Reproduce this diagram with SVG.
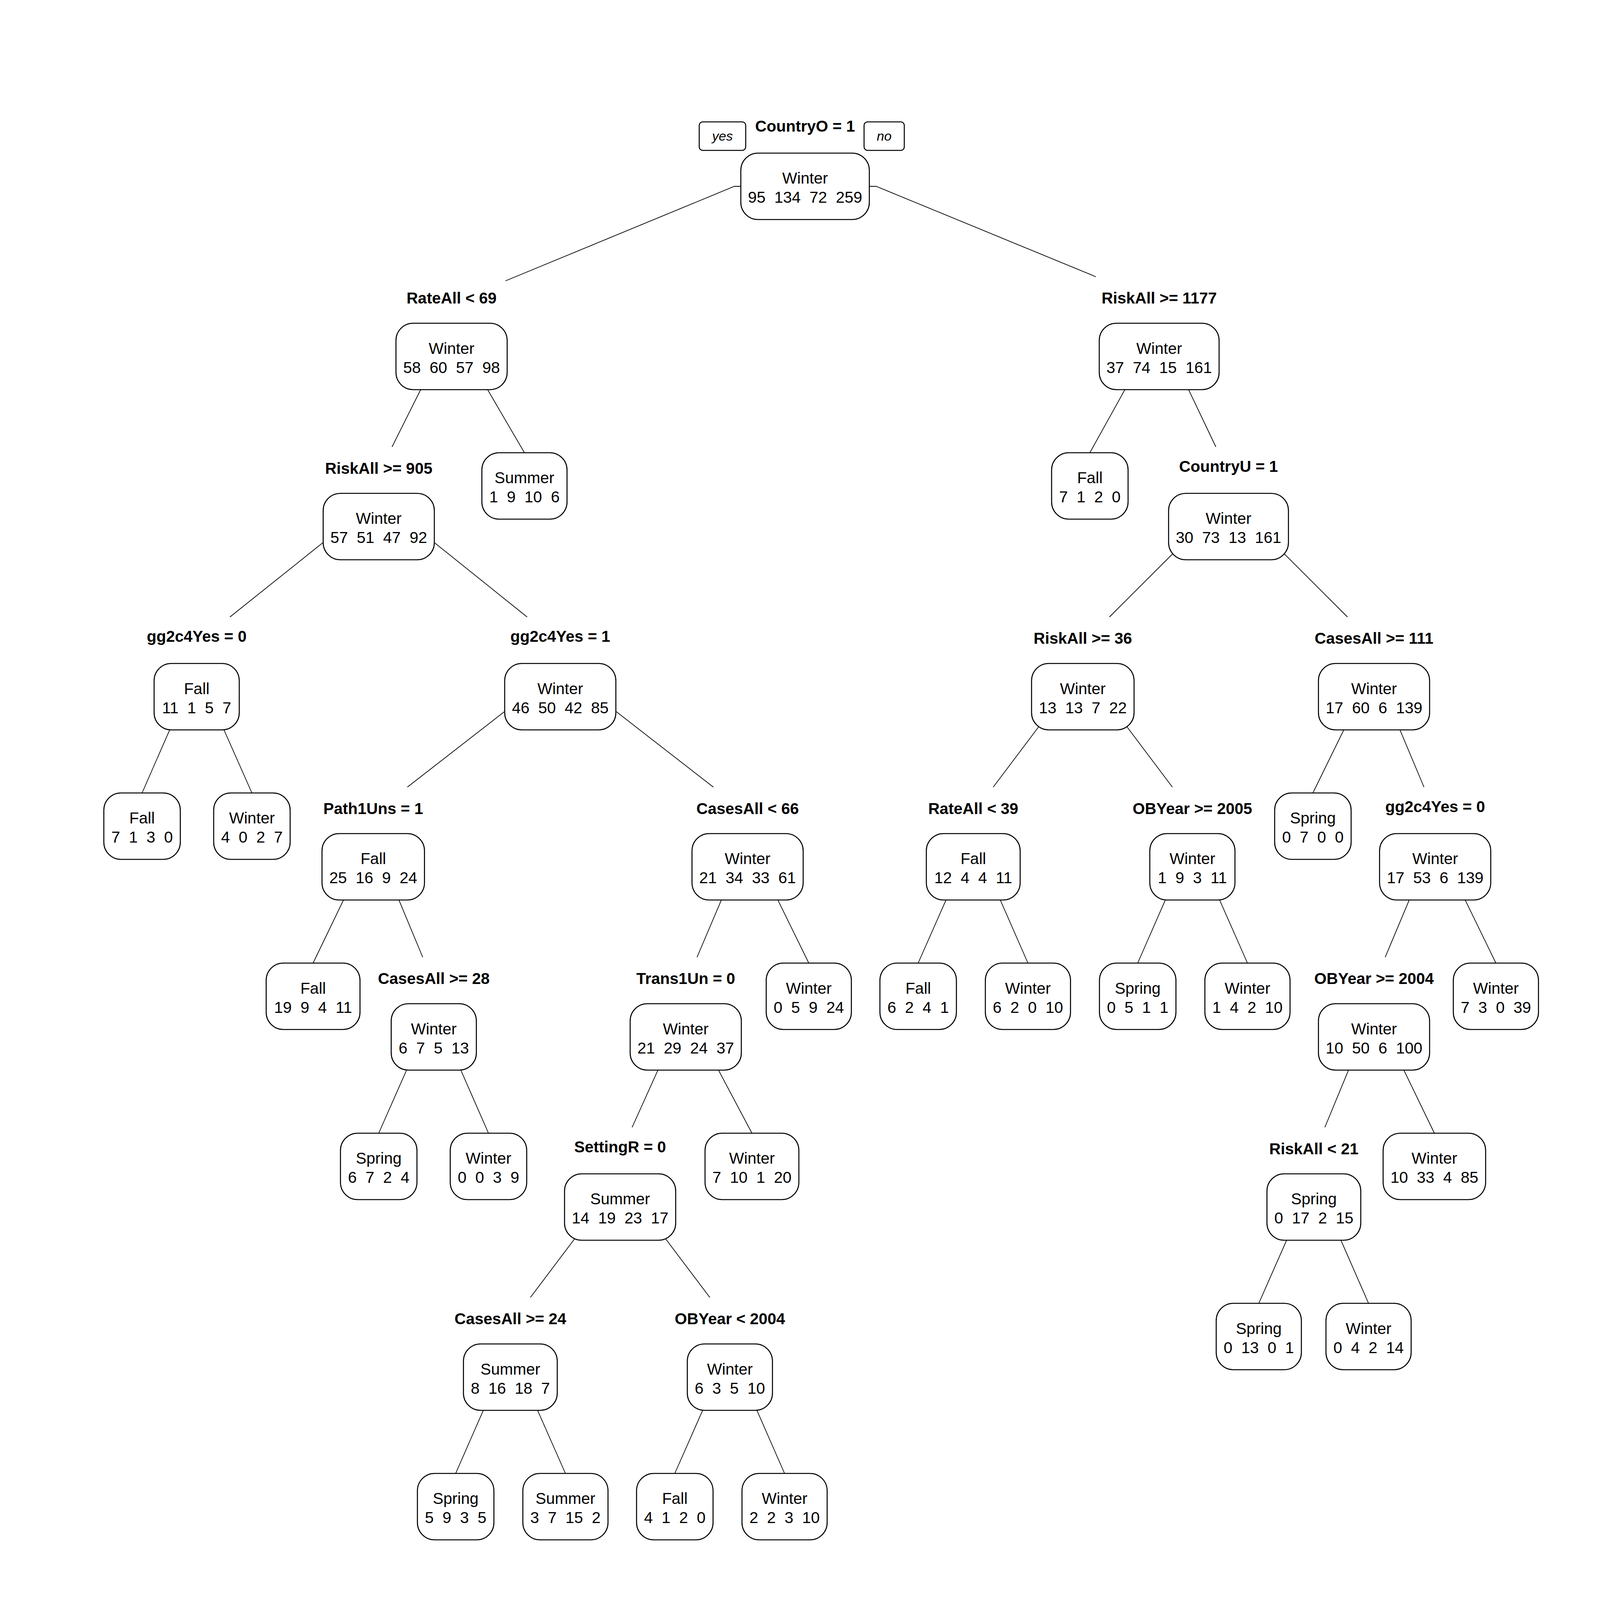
<svg xmlns="http://www.w3.org/2000/svg" width="4204" height="4204" viewBox="0 0 4204 4204" xml:space="preserve">
<style>
.bg{fill:#fff}
.box{fill:#fff;stroke:#000;stroke-width:2.6}
.t{font-family:"Liberation Sans",Arial,sans-serif;font-size:40.5px;text-anchor:middle;fill:#000;white-space:pre}
.s{font-weight:bold}
.e{stroke:#000;stroke-width:1.8;fill:none}
.yn{font-family:"Liberation Sans",Arial,sans-serif;font-size:34px;font-style:italic;text-anchor:middle;fill:#000}
</style>
<rect class="bg" x="0" y="0" width="4204" height="4204"/>
<g id="connectors">
<path class="e" d="M1897,477 H1880 L1294,719"/>
<path class="e" d="M2226,477 H2243 L2805.5,708.5"/>
<path class="e" d="M1156,839.5 L1003.6,1144"/>
<path class="e" d="M1156,839.5 L1342.6,1159"/>
<path class="e" d="M2967.5,839.5 L2790,1159"/>
<path class="e" d="M2967.5,839.5 L3112.6,1144"/>
<path class="e" d="M969.6,1275 L588.6,1579.5"/>
<path class="e" d="M969.6,1275 L1349.4,1579.5"/>
<path class="e" d="M3145,1275 L2840.1,1579.5"/>
<path class="e" d="M3145,1275 L3449.5,1579.5"/>
<path class="e" d="M503.5,1710.5 L363.7,2030"/>
<path class="e" d="M503.5,1710.5 L644.9,2030"/>
<path class="e" d="M1434.3,1710.5 L1042.9,2015"/>
<path class="e" d="M1434.3,1710.5 L1826.2,2015"/>
<path class="e" d="M2772,1710.5 L2542.7,2015"/>
<path class="e" d="M2772,1710.5 L3001.3,2015"/>
<path class="e" d="M3517.5,1710.5 L3361,2030"/>
<path class="e" d="M3517.5,1710.5 L3645.4,2015"/>
<path class="e" d="M955.5,2146 L801.5,2465.5"/>
<path class="e" d="M955.5,2146 L1082.2,2450.5"/>
<path class="e" d="M1913.8,2146 L1784.4,2450.5"/>
<path class="e" d="M1913.8,2146 L2070.5,2465.5"/>
<path class="e" d="M2491.5,2146 L2350.5,2465.5"/>
<path class="e" d="M2491.5,2146 L2631.5,2465.5"/>
<path class="e" d="M3052.5,2146 L2912.5,2465.5"/>
<path class="e" d="M3052.5,2146 L3193.5,2465.5"/>
<path class="e" d="M3674,2146 L3546.1,2450.5"/>
<path class="e" d="M3674,2146 L3829.5,2465.5"/>
<path class="e" d="M1110.5,2581.5 L969.5,2901"/>
<path class="e" d="M1110.5,2581.5 L1250.5,2901"/>
<path class="e" d="M1755.5,2581.5 L1618.2,2886"/>
<path class="e" d="M1755.5,2581.5 L1925,2901"/>
<path class="e" d="M3517.5,2581.5 L3391.6,2886"/>
<path class="e" d="M3517.5,2581.5 L3672,2901"/>
<path class="e" d="M1587.5,3017 L1357.8,3321.5"/>
<path class="e" d="M1587.5,3017 L1817.2,3321.5"/>
<path class="e" d="M3363.5,3017 L3222.5,3336.5"/>
<path class="e" d="M3363.5,3017 L3503.5,3336.5"/>
<path class="e" d="M1306.5,3452.5 L1166.5,3772"/>
<path class="e" d="M1306.5,3452.5 L1447.5,3772"/>
<path class="e" d="M1868.5,3452.5 L1727.5,3772"/>
<path class="e" d="M1868.5,3452.5 L2008.5,3772"/>
</g>
<g id="yesno">
<rect class="box" x="1790" y="312" width="119" height="73" rx="9"/>
<text class="yn" x="1849.5" y="360">yes</text>
<rect class="box" x="2212" y="312" width="103" height="73" rx="9"/>
<text class="yn" x="2263.5" y="360">no</text>
</g>
<g id="n1" transform="translate(2061,392)"><text class="t s" y="-55.5">CountryO = 1</text><rect class="box" x="-164.5" y="0" width="329" height="170" rx="44"/><text class="t" y="78">Winter</text><text class="t" y="127" xml:space="preserve">95  134  72  259</text></g>
<g id="n2" transform="translate(1156,827.5)"><text class="t s" y="-50.5">RateAll &lt; 69</text><rect class="box" x="-142.3" y="0" width="284.6" height="170" rx="44"/><text class="t" y="78">Winter</text><text class="t" y="127" xml:space="preserve">58  60  57  98</text></g>
<g id="n3" transform="translate(2967.5,827.5)"><text class="t s" y="-50.5">RiskAll &gt;= 1177</text><rect class="box" x="-153.4" y="0" width="306.8" height="170" rx="44"/><text class="t" y="78">Winter</text><text class="t" y="127" xml:space="preserve">37  74  15  161</text></g>
<g id="n4" transform="translate(969.6,1263)"><text class="t s" y="-50.5">RiskAll &gt;= 905</text><rect class="box" x="-142.3" y="0" width="284.6" height="170" rx="44"/><text class="t" y="78">Winter</text><text class="t" y="127" xml:space="preserve">57  51  47  92</text></g>
<g id="n5" transform="translate(1342.6,1159)"><rect class="box" x="-109" y="0" width="218" height="170" rx="44"/><text class="t" y="78">Summer</text><text class="t" y="127" xml:space="preserve">1  9  10  6</text></g>
<g id="n6" transform="translate(2790,1159)"><rect class="box" x="-97.9" y="0" width="195.8" height="170" rx="44"/><text class="t" y="78">Fall</text><text class="t" y="127" xml:space="preserve">7  1  2  0</text></g>
<g id="n7" transform="translate(3145,1263)"><text class="t s" y="-55.5">CountryU = 1</text><rect class="box" x="-153.4" y="0" width="306.8" height="170" rx="44"/><text class="t" y="78">Winter</text><text class="t" y="127" xml:space="preserve">30  73  13  161</text></g>
<g id="n8" transform="translate(503.5,1698.5)"><text class="t s" y="-55.5">gg2c4Yes = 0</text><rect class="box" x="-109" y="0" width="218" height="170" rx="44"/><text class="t" y="78">Fall</text><text class="t" y="127" xml:space="preserve">11  1  5  7</text></g>
<g id="n9" transform="translate(1434.3,1698.5)"><text class="t s" y="-55.5">gg2c4Yes = 1</text><rect class="box" x="-142.3" y="0" width="284.6" height="170" rx="44"/><text class="t" y="78">Winter</text><text class="t" y="127" xml:space="preserve">46  50  42  85</text></g>
<g id="n10" transform="translate(2772,1698.5)"><text class="t s" y="-50.5">RiskAll &gt;= 36</text><rect class="box" x="-131.2" y="0" width="262.4" height="170" rx="44"/><text class="t" y="78">Winter</text><text class="t" y="127" xml:space="preserve">13  13  7  22</text></g>
<g id="n11" transform="translate(3517.5,1698.5)"><text class="t s" y="-50.5">CasesAll &gt;= 111</text><rect class="box" x="-142.3" y="0" width="284.6" height="170" rx="44"/><text class="t" y="78">Winter</text><text class="t" y="127" xml:space="preserve">17  60  6  139</text></g>
<g id="n12" transform="translate(363.7,2030)"><rect class="box" x="-97.9" y="0" width="195.8" height="170" rx="44"/><text class="t" y="78">Fall</text><text class="t" y="127" xml:space="preserve">7  1  3  0</text></g>
<g id="n13" transform="translate(644.9,2030)"><rect class="box" x="-97.9" y="0" width="195.8" height="170" rx="44"/><text class="t" y="78">Winter</text><text class="t" y="127" xml:space="preserve">4  0  2  7</text></g>
<g id="n14" transform="translate(955.5,2134)"><text class="t s" y="-50.5">Path1Uns = 1</text><rect class="box" x="-131.2" y="0" width="262.4" height="170" rx="44"/><text class="t" y="78">Fall</text><text class="t" y="127" xml:space="preserve">25  16  9  24</text></g>
<g id="n15" transform="translate(1913.8,2134)"><text class="t s" y="-50.5">CasesAll &lt; 66</text><rect class="box" x="-142.3" y="0" width="284.6" height="170" rx="44"/><text class="t" y="78">Winter</text><text class="t" y="127" xml:space="preserve">21  34  33  61</text></g>
<g id="n16" transform="translate(2491.5,2134)"><text class="t s" y="-50.5">RateAll &lt; 39</text><rect class="box" x="-120.1" y="0" width="240.2" height="170" rx="44"/><text class="t" y="78">Fall</text><text class="t" y="127" xml:space="preserve">12  4  4  11</text></g>
<g id="n17" transform="translate(3052.5,2134)"><text class="t s" y="-50.5">OBYear &gt;= 2005</text><rect class="box" x="-109" y="0" width="218" height="170" rx="44"/><text class="t" y="78">Winter</text><text class="t" y="127" xml:space="preserve">1  9  3  11</text></g>
<g id="n18" transform="translate(3361,2030)"><rect class="box" x="-97.9" y="0" width="195.8" height="170" rx="44"/><text class="t" y="78">Spring</text><text class="t" y="127" xml:space="preserve">0  7  0  0</text></g>
<g id="n19" transform="translate(3674,2134)"><text class="t s" y="-55.5">gg2c4Yes = 0</text><rect class="box" x="-142.3" y="0" width="284.6" height="170" rx="44"/><text class="t" y="78">Winter</text><text class="t" y="127" xml:space="preserve">17  53  6  139</text></g>
<g id="n20" transform="translate(801.5,2465.5)"><rect class="box" x="-120.1" y="0" width="240.2" height="170" rx="44"/><text class="t" y="78">Fall</text><text class="t" y="127" xml:space="preserve">19  9  4  11</text></g>
<g id="n21" transform="translate(1110.5,2569.5)"><text class="t s" y="-50.5">CasesAll &gt;= 28</text><rect class="box" x="-109" y="0" width="218" height="170" rx="44"/><text class="t" y="78">Winter</text><text class="t" y="127" xml:space="preserve">6  7  5  13</text></g>
<g id="n22" transform="translate(1755.5,2569.5)"><text class="t s" y="-50.5">Trans1Un = 0</text><rect class="box" x="-142.3" y="0" width="284.6" height="170" rx="44"/><text class="t" y="78">Winter</text><text class="t" y="127" xml:space="preserve">21  29  24  37</text></g>
<g id="n23" transform="translate(2070.5,2465.5)"><rect class="box" x="-109" y="0" width="218" height="170" rx="44"/><text class="t" y="78">Winter</text><text class="t" y="127" xml:space="preserve">0  5  9  24</text></g>
<g id="n24" transform="translate(2350.5,2465.5)"><rect class="box" x="-97.9" y="0" width="195.8" height="170" rx="44"/><text class="t" y="78">Fall</text><text class="t" y="127" xml:space="preserve">6  2  4  1</text></g>
<g id="n25" transform="translate(2631.5,2465.5)"><rect class="box" x="-109" y="0" width="218" height="170" rx="44"/><text class="t" y="78">Winter</text><text class="t" y="127" xml:space="preserve">6  2  0  10</text></g>
<g id="n26" transform="translate(2912.5,2465.5)"><rect class="box" x="-97.9" y="0" width="195.8" height="170" rx="44"/><text class="t" y="78">Spring</text><text class="t" y="127" xml:space="preserve">0  5  1  1</text></g>
<g id="n27" transform="translate(3193.5,2465.5)"><rect class="box" x="-109" y="0" width="218" height="170" rx="44"/><text class="t" y="78">Winter</text><text class="t" y="127" xml:space="preserve">1  4  2  10</text></g>
<g id="n28" transform="translate(3517.5,2569.5)"><text class="t s" y="-50.5">OBYear &gt;= 2004</text><rect class="box" x="-142.3" y="0" width="284.6" height="170" rx="44"/><text class="t" y="78">Winter</text><text class="t" y="127" xml:space="preserve">10  50  6  100</text></g>
<g id="n29" transform="translate(3829.5,2465.5)"><rect class="box" x="-109" y="0" width="218" height="170" rx="44"/><text class="t" y="78">Winter</text><text class="t" y="127" xml:space="preserve">7  3  0  39</text></g>
<g id="n30" transform="translate(969.5,2901)"><rect class="box" x="-97.9" y="0" width="195.8" height="170" rx="44"/><text class="t" y="78">Spring</text><text class="t" y="127" xml:space="preserve">6  7  2  4</text></g>
<g id="n31" transform="translate(1250.5,2901)"><rect class="box" x="-97.9" y="0" width="195.8" height="170" rx="44"/><text class="t" y="78">Winter</text><text class="t" y="127" xml:space="preserve">0  0  3  9</text></g>
<g id="n32" transform="translate(1587.5,3005)"><text class="t s" y="-55.5">SettingR = 0</text><rect class="box" x="-142.3" y="0" width="284.6" height="170" rx="44"/><text class="t" y="78">Summer</text><text class="t" y="127" xml:space="preserve">14  19  23  17</text></g>
<g id="n33" transform="translate(1925,2901)"><rect class="box" x="-120.1" y="0" width="240.2" height="170" rx="44"/><text class="t" y="78">Winter</text><text class="t" y="127" xml:space="preserve">7  10  1  20</text></g>
<g id="n34" transform="translate(3363.5,3005)"><text class="t s" y="-50.5">RiskAll &lt; 21</text><rect class="box" x="-120.1" y="0" width="240.2" height="170" rx="44"/><text class="t" y="78">Spring</text><text class="t" y="127" xml:space="preserve">0  17  2  15</text></g>
<g id="n35" transform="translate(3672,2901)"><rect class="box" x="-131.2" y="0" width="262.4" height="170" rx="44"/><text class="t" y="78">Winter</text><text class="t" y="127" xml:space="preserve">10  33  4  85</text></g>
<g id="n36" transform="translate(1306.5,3440.5)"><text class="t s" y="-50.5">CasesAll &gt;= 24</text><rect class="box" x="-120.1" y="0" width="240.2" height="170" rx="44"/><text class="t" y="78">Summer</text><text class="t" y="127" xml:space="preserve">8  16  18  7</text></g>
<g id="n37" transform="translate(1868.5,3440.5)"><text class="t s" y="-50.5">OBYear &lt; 2004</text><rect class="box" x="-109" y="0" width="218" height="170" rx="44"/><text class="t" y="78">Winter</text><text class="t" y="127" xml:space="preserve">6  3  5  10</text></g>
<g id="n38" transform="translate(3222.5,3336.5)"><rect class="box" x="-109" y="0" width="218" height="170" rx="44"/><text class="t" y="78">Spring</text><text class="t" y="127" xml:space="preserve">0  13  0  1</text></g>
<g id="n39" transform="translate(3503.5,3336.5)"><rect class="box" x="-109" y="0" width="218" height="170" rx="44"/><text class="t" y="78">Winter</text><text class="t" y="127" xml:space="preserve">0  4  2  14</text></g>
<g id="n40" transform="translate(1166.5,3772)"><rect class="box" x="-97.9" y="0" width="195.8" height="170" rx="44"/><text class="t" y="78">Spring</text><text class="t" y="127" xml:space="preserve">5  9  3  5</text></g>
<g id="n41" transform="translate(1447.5,3772)"><rect class="box" x="-109" y="0" width="218" height="170" rx="44"/><text class="t" y="78">Summer</text><text class="t" y="127" xml:space="preserve">3  7  15  2</text></g>
<g id="n42" transform="translate(1727.5,3772)"><rect class="box" x="-97.9" y="0" width="195.8" height="170" rx="44"/><text class="t" y="78">Fall</text><text class="t" y="127" xml:space="preserve">4  1  2  0</text></g>
<g id="n43" transform="translate(2008.5,3772)"><rect class="box" x="-109" y="0" width="218" height="170" rx="44"/><text class="t" y="78">Winter</text><text class="t" y="127" xml:space="preserve">2  2  3  10</text></g>
</svg>
